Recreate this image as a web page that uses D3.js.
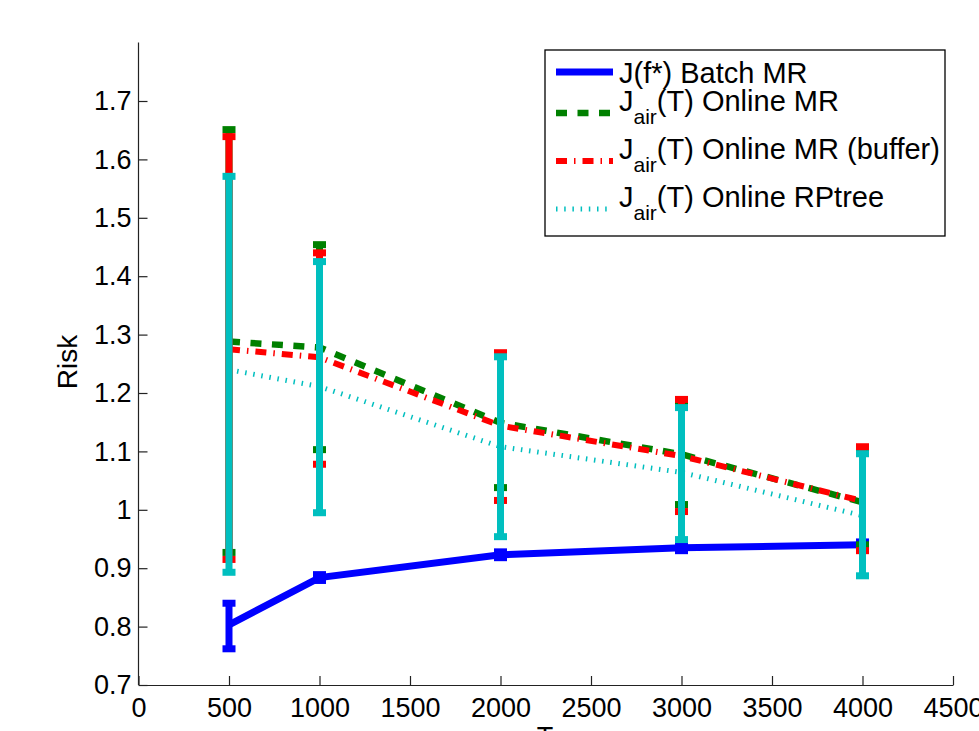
<!DOCTYPE html>
<html>
<head>
<meta charset="utf-8">
<script src="https://cdn.jsdelivr.net/npm/d3@7"></script>
<style>
  html, body { margin: 0; padding: 0; background: #fff; }
  svg { display: block; }
  text { font-family: "Liberation Sans", Arial, Helvetica, sans-serif; fill: #000; }
</style>
</head>
<body>
<svg id="chart" width="979" height="731"></svg>
<script>
// ---------------- data ----------------
const T = [500, 1000, 2000, 3000, 4000];
const xTicks = [0, 500, 1000, 1500, 2000, 2500, 3000, 3500, 4000, 4500];
const yTicks = [0.7, 0.8, 0.9, 1.0, 1.1, 1.2, 1.3, 1.4, 1.5, 1.6, 1.7];

const batchMean  = [0.803, 0.884, 0.923, 0.935, 0.940];
const batchLower = [0.762, 0.879, 0.918, 0.930, 0.935];
const batchUpper = [0.840, 0.889, 0.928, 0.940, 0.945];

const onlineMean  = [1.288, 1.278, 1.149, 1.095, 1.013];
const onlineLower = [0.927, 1.103, 1.038, 1.009, 0.940];
const onlineUpper = [1.651, 1.454, 1.265, 1.182, 1.102];

const bufferMean  = [1.275, 1.261, 1.144, 1.092, 1.015];
const bufferLower = [0.915, 1.078, 1.016, 0.997, 0.930];
const bufferUpper = [1.639, 1.440, 1.269, 1.189, 1.108];

const rptreeMean  = [1.240, 1.211, 1.108, 1.064, 0.990];
const rptreeLower = [0.893, 0.995, 0.954, 0.949, 0.887];
const rptreeUpper = [1.571, 1.425, 1.262, 1.175, 1.096];

const seriesNames = ["J(f*) Batch MR", "Online MR", "Online MR (buffer)", "Online RPtree"];

// ---------------- layout ----------------
const svg = d3.select("#chart");
const x = d3.scaleLinear().domain([0, 4500]).range([138.5, 953]);
const y = d3.scaleLinear().domain([0.7, 1.8]).range([685, 42.6]);

const series = [
  { mean: batchMean,  lo: batchLower,  hi: batchUpper,  color: "#0000ff", width: 7,   dash: null },
  { mean: onlineMean, lo: onlineLower, hi: onlineUpper, color: "#008000", width: 6.5, dash: "11 10.5" },
  { mean: bufferMean, lo: bufferLower, hi: bufferUpper, color: "#ff0000", width: 6,   dash: "11 7 1.5 7" },
  { mean: rptreeMean, lo: rptreeLower, hi: rptreeUpper, color: "#00bfbf", width: 5,   dash: "1.5 6.7" }
];

const FS = 27;
const LFS = 29;

// axes
const xAxis = d3.axisBottom(x).tickValues(xTicks).tickFormat(d3.format("d"))
  .tickSizeInner(-9).tickSizeOuter(0).tickPadding(13);
const yAxis = d3.axisLeft(y).tickValues(yTicks).tickFormat(d => d3.format("")(+d.toFixed(1)))
  .tickSizeInner(-9).tickSizeOuter(0).tickPadding(7);

const gx = svg.append("g").attr("transform", "translate(0,685)").call(xAxis);
const gy = svg.append("g").attr("transform", "translate(138.5,0)").call(yAxis);
[gx, gy].forEach(g => {
  g.selectAll("path.domain").attr("stroke", "#222").attr("stroke-width", 1.2);
  g.selectAll(".tick line").attr("stroke", "#222").attr("stroke-width", 1.2);
  g.selectAll(".tick text").attr("font-size", FS).attr("font-family", "Liberation Sans, Arial, sans-serif").attr("fill", "#000");
});

// y axis line up to top of domain
gy.select("path.domain").attr("d", `M0,${y(1.8)}V${y(0.7)}`);

// axis labels
svg.append("text").attr("transform", `translate(77,362) rotate(-90)`)
  .attr("text-anchor", "middle").attr("font-size", 28).text("Risk");
svg.append("text").attr("x", 545).attr("y", 746)
  .attr("text-anchor", "middle").attr("font-size", FS).text("T");

// series
const line = d3.line().x(d => x(d[0])).y(d => y(d[1]));
const capHalf = 6.5;
series.forEach(s => {
  const g = svg.append("g");
  const pts = T.map((t, i) => [t, s.mean[i]]);
  g.append("path").attr("d", line(pts)).attr("fill", "none")
    .attr("stroke", s.color).attr("stroke-width", s.width)
    .attr("stroke-dasharray", s.dash).attr("stroke-linejoin", "miter");
  T.forEach((t, i) => {
    g.append("line").attr("x1", x(t)).attr("x2", x(t))
      .attr("y1", y(s.lo[i])).attr("y2", y(s.hi[i]))
      .attr("stroke", s.color).attr("stroke-width", 7);
    [s.lo[i], s.hi[i]].forEach(v => {
      g.append("line").attr("x1", x(t) - capHalf).attr("x2", x(t) + capHalf)
        .attr("y1", y(v)).attr("y2", y(v))
        .attr("stroke", s.color).attr("stroke-width", 7);
    });
  });
});

// legend
const lg = svg.append("g");
lg.append("rect").attr("x", 545).attr("y", 50).attr("width", 400).attr("height", 186)
  .attr("fill", "#fff").attr("stroke", "#000").attr("stroke-width", 1.3);
const rowLineY = [72, 113, 161, 209];
const rowTextY = [83, 111, 159, 207];
series.forEach((s, i) => {
  lg.append("line").attr("x1", 556).attr("x2", 613)
    .attr("y1", rowLineY[i]).attr("y2", rowLineY[i])
    .attr("stroke", s.color).attr("stroke-width", s.width)
    .attr("stroke-dasharray", s.dash);
  const t = lg.append("text").attr("x", 619).attr("y", rowTextY[i]).attr("font-size", LFS);
  if (i === 0) {
    t.text(seriesNames[0]);
  } else {
    t.append("tspan").text("J");
    t.append("tspan").attr("dy", 13).attr("font-size", 21).text("air");
    t.append("tspan").attr("dy", -13).text("(T) " + seriesNames[i]);
  }
});
</script>
</body>
</html>
